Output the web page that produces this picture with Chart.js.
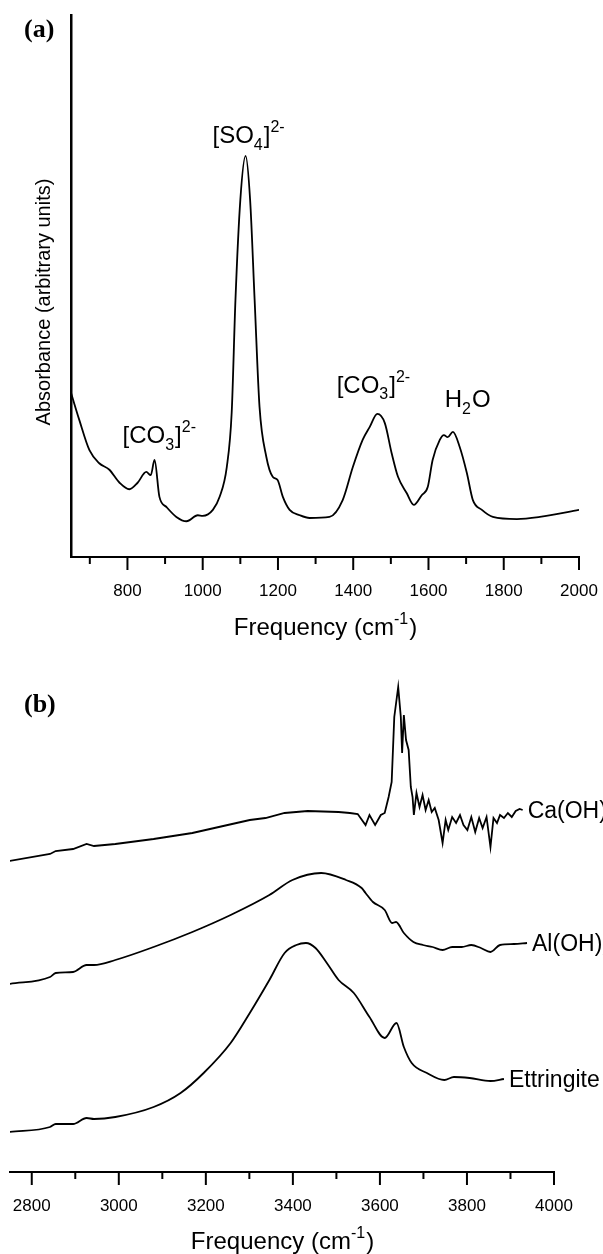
<!DOCTYPE html>
<html><head><meta charset="utf-8">
<script src="https://cdn.jsdelivr.net/npm/chart.js@4"></script>
<style>
html,body{margin:0;padding:0;background:#fff;}
#wrap{position:relative;width:603px;height:1254px;overflow:hidden;background:#fff;}
#ca{position:absolute;left:0;top:0;width:603px;height:650px;}
#cb{position:absolute;left:0;top:650px;width:603px;height:604px;}
</style></head><body>
<div id="wrap">
<canvas id="ca" width="603" height="650"></canvas>
<canvas id="cb" width="603" height="604"></canvas>
</div>
<script>
// ---------- Panel (a) data: frequency (cm-1) and absorbance (arbitrary units) ----------
const freqA = [650,672,699,725,752,779,805,827,850,862,872,885,904,930,957,987,1000,1027,1045,1064,1077,1087,1100,1114,1126,1138,1151,1169,1186,1199,1213,1231,1258,1284,1337,1372,1399,1425,1444,1464,1484,1502,1519,1542,1561,1582,1598,1611,1630,1641,1651,1665,1683,1702,1718,1742,1771,1835,1896,2000];
const absA = [0.303,0.253,0.197,0.173,0.161,0.137,0.125,0.137,0.157,0.151,0.179,0.111,0.092,0.074,0.066,0.077,0.076,0.087,0.111,0.166,0.266,0.474,0.659,0.740,0.659,0.474,0.277,0.185,0.148,0.142,0.111,0.087,0.077,0.072,0.074,0.105,0.166,0.216,0.240,0.264,0.247,0.192,0.148,0.118,0.096,0.114,0.129,0.179,0.216,0.225,0.221,0.231,0.203,0.155,0.105,0.087,0.074,0.070,0.074,0.087];

// ---------- Panel (b) data: three offset spectra ----------
const seriesNames = ["Ca(OH)2", "Al(OH)3", "Ettringite"];
const freqCa = [2749,2842,2855,2895,2926,2943,2992,3080,3169,3240,3301,3337,3381,3434,3505,3531,3549,3567,3576,3589,3602,3611,3620,3627,3633,3642,3648,3651,3655,3660,3666,3671,3675,3678,3684,3691,3698,3705,3712,3719,3726,3735,3744,3751,3757,3766,3775,3784,3792,3801,3810,3819,3828,3836,3845,3854,3861,3869,3876,3885,3894,3903,3912,3921,3928];
const valCa = [3.11,3.18,3.21,3.23,3.28,3.26,3.28,3.33,3.39,3.46,3.52,3.54,3.59,3.61,3.60,3.59,3.58,3.47,3.57,3.47,3.57,3.59,3.75,3.90,4.55,4.85,4.55,4.19,4.57,4.32,4.22,3.85,3.75,3.57,3.79,3.65,3.77,3.62,3.72,3.60,3.64,3.52,3.29,3.52,3.42,3.55,3.49,3.57,3.47,3.42,3.55,3.40,3.54,3.44,3.55,3.25,3.54,3.49,3.57,3.54,3.59,3.55,3.61,3.63,3.62];
const freqAl = [2749,2842,2855,2895,2926,2943,2992,3080,3169,3257,3346,3399,3465,3522,3558,3567,3584,3611,3628,3637,3655,3677,3699,3721,3744,3766,3788,3810,3832,3854,3876,3908,3938];
const valAl = [1.88,1.95,1.99,2.00,2.07,2.07,2.12,2.25,2.40,2.57,2.77,2.92,2.99,2.92,2.84,2.79,2.70,2.62,2.49,2.50,2.39,2.30,2.27,2.25,2.22,2.25,2.25,2.27,2.24,2.20,2.27,2.28,2.29];
const freqEt = [2749,2842,2855,2895,2926,2943,2992,3080,3142,3195,3257,3301,3346,3381,3408,3430,3452,3478,3505,3540,3576,3611,3638,3655,3673,3708,3748,3770,3806,3854,3885];
const valEt = [0.40,0.45,0.48,0.48,0.54,0.53,0.55,0.65,0.79,0.99,1.29,1.59,1.92,2.19,2.27,2.29,2.24,2.09,1.92,1.79,1.55,1.34,1.49,1.25,1.09,0.99,0.92,0.95,0.94,0.91,0.93];

// tick labels (major ticks); minor ticks sit halfway between
const tickLabelsA = ["800","1000","1200","1400","1600","1800","2000"];
const tickLabelsB = ["2800","3000","3200","3400","3600","3800","4000"];

// ---------- Text configuration ----------
const SANS = "'Liberation Sans', Arial, Helvetica, sans-serif";
const SERIF = "'Liberation Serif', 'Times New Roman', serif";
// peak assignments in panel (a), anchored in data units (left edge, baseline)
const peakLabels = [
  {parts:[{t:"[CO"},{t:"3",s:"sub"},{t:"]"},{t:"2-",s:"sup"}], x:787, y:0.210},
  {parts:[{t:"[SO"},{t:"4",s:"sub"},{t:"]"},{t:"2-",s:"sup"}], x:1026, y:0.764},
  {parts:[{t:"[CO"},{t:"3",s:"sub"},{t:"]"},{t:"2-",s:"sup"}], x:1356, y:0.303},
  {parts:[{t:"H"},{t:"2",s:"sub"},{t:"O"}], x:1643, y:0.277}
];
const seriesLabelParts = [
  [{t:"Ca(OH)"},{t:"2",s:"sub"}],
  [{t:"Al(OH)"},{t:"3",s:"sub"}],
  [{t:"Ettringite"}]
];
const xTitleParts = [{t:"Frequency (cm"},{t:"-1",s:"sup"},{t:")"}];

function partFont(p, size, fam){ return (p.s ? Math.round(size*0.65) : size) + "px " + fam; }
function richWidth(ctx, parts, size, fam){
  let w = 0;
  for (const p of parts){ ctx.font = partFont(p,size,fam); w += ctx.measureText(p.t).width; }
  return w;
}
function drawRich(ctx, parts, x, y, size, fam, align){
  ctx.save();
  ctx.fillStyle = "#000"; ctx.textAlign = "left"; ctx.textBaseline = "alphabetic";
  let cx = align === "center" ? x - richWidth(ctx, parts, size, fam)/2 : x;
  for (const p of parts){
    ctx.font = partFont(p,size,fam);
    const dy = p.s === "sub" ? size*0.28 : (p.s === "sup" ? -size*0.45 : 0);
    ctx.fillText(p.t, cx, y + dy);
    cx += ctx.measureText(p.t).width + (p.s ? 1 : 0);
  }
  ctx.restore();
}
function drawTicks(chart){
  const xs = chart.scales.x, ctx = chart.ctx, yb = chart.chartArea.bottom;
  ctx.save(); ctx.strokeStyle = "#000"; ctx.lineWidth = 2;
  for (const t of xs.ticks){
    if (t.value < xs.min || t.value > xs.max) continue;
    const px = xs.getPixelForValue(t.value);
    const len = t.major ? 13 : 7;
    ctx.beginPath(); ctx.moveTo(px, yb); ctx.lineTo(px, yb + len); ctx.stroke();
  }
  ctx.restore();
}

const pluginA = {
  id: "decorA",
  afterDraw(chart){
    const ctx = chart.ctx, xs = chart.scales.x, ys = chart.scales.y, ca = chart.chartArea;
    drawTicks(chart);
    for (const L of peakLabels){
      drawRich(ctx, L.parts, xs.getPixelForValue(L.x), ys.getPixelForValue(L.y), 24, SANS, "left");
    }
    drawRich(ctx, xTitleParts, (ca.left + ca.right)/2, 635, 24, SANS, "center");
    // y axis title
    ctx.save();
    ctx.translate(50, 302); ctx.rotate(-Math.PI/2);
    ctx.fillStyle = "#000"; ctx.font = "20px " + SANS; ctx.textAlign = "center"; ctx.textBaseline = "alphabetic";
    ctx.fillText("Absorbance (arbitrary units)", 0, 0);
    ctx.restore();
    // panel tag
    ctx.save(); ctx.fillStyle = "#000"; ctx.font = "bold 26px " + SERIF; ctx.textBaseline = "alphabetic";
    ctx.fillText("(a)", 24, 37); ctx.restore();
  }
};
const pluginB = {
  id: "decorB",
  afterDraw(chart){
    const ctx = chart.ctx, ca = chart.chartArea;
    drawTicks(chart);
    chart.data.datasets.forEach((ds, i) => {
      const meta = chart.getDatasetMeta(i);
      const last = meta.data[meta.data.length - 1];
      drawRich(ctx, seriesLabelParts[i], last.x + 5, last.y + 8, 23, SANS, "left");
    });
    drawRich(ctx, xTitleParts, (ca.left + ca.right)/2, 599, 24, SANS, "center");
    ctx.save(); ctx.fillStyle = "#000"; ctx.font = "bold 26px " + SERIF; ctx.textBaseline = "alphabetic";
    ctx.fillText("(b)", 24, 62); ctx.restore();
  }
};

function pts(xs, ys){ return xs.map((x, i) => ({x: x, y: ys[i]})); }
function xAxis(min, max, labels, height){
  const majors = labels.map(Number);
  const all = [];
  majors.forEach(m => { all.push({value: m - 100, major: false}); all.push({value: m, major: true}); });
  return {
    type: "linear", min: min, max: max, bounds: "data",
    border: {display: true, color: "#000", width: 2},
    grid: {display: false, drawTicks: false, tickLength: 0},
    ticks: {
      autoSkip: false, maxRotation: 0, minRotation: 0,
      padding: 24, color: "#000", font: {family: SANS, size: 17},
      callback: (v) => majors.includes(v) ? String(v) : ""
    },
    afterBuildTicks: (s) => {
      s.ticks = all.filter(t => t.value >= min && t.value <= max).map(t => ({value: t.value, major: t.major}));
    },
    afterFit: (s) => { s.height = height; s.paddingLeft = 0; s.paddingRight = 0; }
  };
}
const lineStyle = {borderColor: "#000", borderWidth: 1.8, pointRadius: 0, fill: false, cubicInterpolationMode: "monotone"};

new Chart(document.getElementById("ca"), {
  type: "line",
  data: {datasets: [Object.assign({label: "Absorbance", data: pts(freqA, absA)}, lineStyle)]},
  options: {
    responsive: false, animation: false, devicePixelRatio: 1,
    layout: {padding: {left: 0, right: 24, top: 15, bottom: 0}},
    plugins: {legend: {display: false}, tooltip: {enabled: false}},
    scales: {
      x: xAxis(650, 2000, tickLabelsA, 93),
      y: {min: 0, max: 1, border: {display: true, color: "#000", width: 2.5},
          grid: {display: false, drawTicks: false}, ticks: {display: false},
          afterFit: (s) => { s.width = 71; }}
    }
  },
  plugins: [pluginA]
});

new Chart(document.getElementById("cb"), {
  type: "line",
  data: {datasets: [
    Object.assign({label: seriesNames[0], data: pts(freqCa, valCa)}, lineStyle, {cubicInterpolationMode: "default", tension: 0}),
    Object.assign({label: seriesNames[1], data: pts(freqAl, valAl)}, lineStyle),
    Object.assign({label: seriesNames[2], data: pts(freqEt, valEt)}, lineStyle)
  ]},
  options: {
    responsive: false, animation: false, devicePixelRatio: 1,
    layout: {padding: {left: 10, right: 49, top: 10, bottom: 0}},
    plugins: {legend: {display: false}, tooltip: {enabled: false}},
    scales: {
      x: xAxis(2750, 4000, tickLabelsB, 82),
      y: {display: false, min: 0, max: 5.12}
    }
  },
  plugins: [pluginB]
});
</script>
</body></html>
